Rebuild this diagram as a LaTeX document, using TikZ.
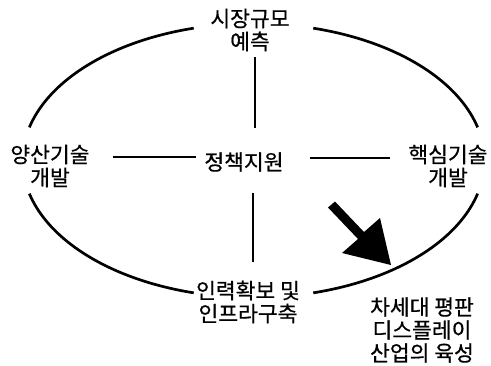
\documentclass[tikz,border=0pt]{standalone}
\usepackage{fontspec}
\newfontfamily\kr[FakeBold=0.6]{Noto Sans CJK KR}
\begin{document}
\begin{tikzpicture}[x=1pt,y=-1pt,
  lbl/.style={font=\kr\fontsize{21.5}{23}\selectfont, align=center, inner sep=0pt},
  conn/.style={line width=2.7pt},
  ring/.style={line width=2.7pt}]
\useasboundingbox (0,0) rectangle (491,365);
% labels
\node[lbl] (top) at (250,30) {시장규모\\예측};
\node[lbl] (center) at (244,162) {정책지원};
\node[lbl] (left) at (50,166) {양산기술\\개발};
\node[lbl] (right) at (448,166) {핵심기술\\개발};
\node[lbl] (bottom) at (248,302) {인력확보 및\\인프라구축};
\node[lbl] (goal) at (422,330) {차세대 평판\\디스플레이\\산업의 육성};
% ellipse arcs
\draw[ring] plot[domain=105:166, samples=40, smooth] ({253.5+231*cos(\x)},{160.5-137*sin(\x)});
\draw[ring] plot[domain=14:75, samples=40, smooth] ({253.5+231*cos(\x)},{160.5-137*sin(\x)});
\draw[ring] plot[domain=194:255, samples=40, smooth] ({253.5+231*cos(\x)},{160.5-137*sin(\x)});
\draw[ring] plot[domain=285:346, samples=40, smooth] ({253.5+231*cos(\x)},{160.5-137*sin(\x)});
% cross connectors
\coordinate (cL) at ([yshift=5pt]center.west);
\coordinate (cR) at ([yshift=4pt]center.east);
\coordinate (cT) at ([xshift=11pt]center.north);
\coordinate (cB) at ([xshift=9pt]center.south);
\draw[conn, shorten <=6pt, shorten >=24pt] (cT |- top.south) -- (cT);
\draw[conn, shorten <=21pt, shorten >=18pt] (cB) -- (cB |- bottom.north);
\draw[conn, shorten <=23pt, shorten >=8pt] (left.east |- cL) -- (cL);
\draw[conn, shorten <=26pt, shorten >=18pt] (cR) -- (right.west |- cR);
% big arrow
\fill (335,201.5) -- (364,232) -- (380,218) -- (391,265) -- (342,253) -- (358,239) -- (328,207.5) -- cycle;
\end{tikzpicture}
\end{document}
